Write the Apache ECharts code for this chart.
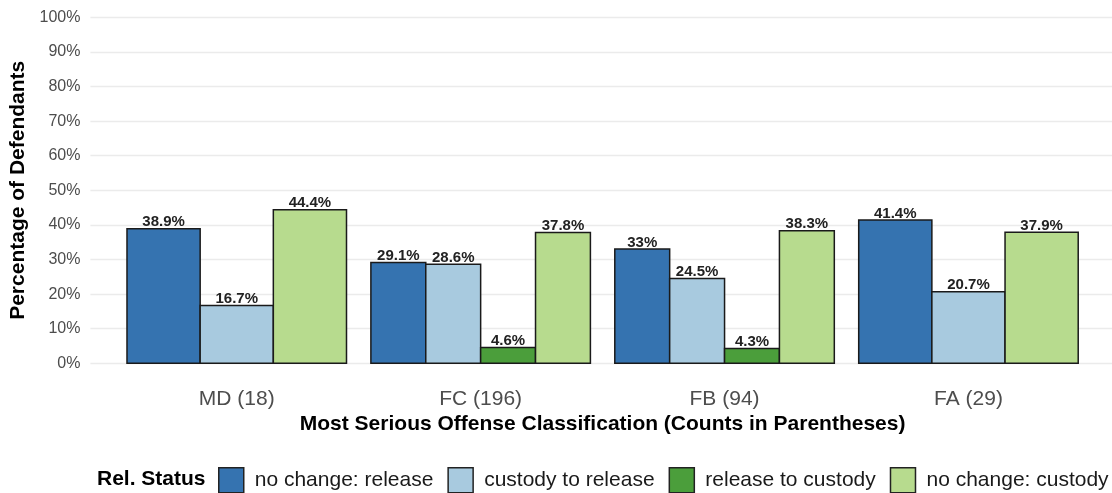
<!DOCTYPE html>
<html>
<head>
<meta charset="utf-8">
<script src="https://cdn.jsdelivr.net/npm/echarts@6/dist/echarts.min.js"></script>
<style>
html,body{margin:0;padding:0;background:#fff;}
#chart{width:1112px;height:493px;}
</style>
</head>
<body>
<div id="chart"></div>
<script>
// ---- data ----
const categories = ['MD (18)', 'FC (196)', 'FB (94)', 'FA (29)'];
const statusNames = ['no change: release', 'custody to release', 'release to custody', 'no change: custody'];
const noChangeRelease  = [38.9, 29.1, 33, 41.4];
const custodyToRelease = [16.7, 28.6, 24.5, 20.7];
const releaseToCustody = [null, 4.6, 4.3, null];
const noChangeCustody  = [44.4, 37.8, 38.3, 37.9];
const yTicks = [0, 10, 20, 30, 40, 50, 60, 70, 80, 90, 100];

const seriesValues = [noChangeRelease, custodyToRelease, releaseToCustody, noChangeCustody];
const colors = ['#3573b0', '#a8cadf', '#4b9e3b', '#b7db8e'];
const FONT = '"Liberation Sans", Arial, sans-serif';

// dodge like ggplot: bars present in each category share 0.9 of the band
function buildData(si) {
  const out = [];
  categories.forEach((c, ci) => {
    const present = seriesValues.map((a, i) => a[ci] == null ? -1 : i).filter(i => i >= 0);
    const v = seriesValues[si][ci];
    if (v == null) return;
    out.push([ci + 1, v, present.indexOf(si), present.length]);
  });
  return out;
}

function renderItem(params, api) {
  const cat = api.value(0), val = api.value(1), k = api.value(2), n = api.value(3);
  const w = 0.9 / n;
  const x0 = cat - 0.45 + k * w;
  const p1 = api.coord([x0, val]);
  const p2 = api.coord([x0 + w, 0]);
  return {
    type: 'group',
    children: [
      {
        type: 'rect',
        shape: { x: p1[0], y: p1[1], width: p2[0] - p1[0], height: p2[1] - p1[1] },
        style: { fill: api.visual('color'), stroke: '#1a1a1a', lineWidth: 1.5 }
      },
      {
        type: 'text',
        style: {
          text: val + '%',
          x: (p1[0] + p2[0]) / 2,
          y: p1[1] + 1,
          align: 'center',
          verticalAlign: 'bottom',
          font: 'bold 15px ' + FONT,
          fill: '#222'
        }
      }
    ]
  };
}

const chart = echarts.init(document.getElementById('chart'));
chart.setOption({
  animation: false,
  backgroundColor: '#fff',
  textStyle: { fontFamily: FONT },
  grid: { left: 90.4, top: 17.3, height: 346, width: 1024.4, containLabel: false, outerBoundsMode: 'none' },
  xAxis: {
    type: 'value',
    min: 0.4,
    max: 4.6,
    axisLine: { show: false },
    axisTick: { show: false },
    splitLine: { show: false },
    axisLabel: {
      customValues: [1, 2, 3, 4],
      formatter: v => categories[Math.round(v) - 1] || '',
      fontSize: 21,
      color: '#4d4d4d',
      margin: 25
    },
    name: 'Most Serious Offense Classification (Counts in Parentheses)',
    nameLocation: 'middle',
    nameGap: 50,
    nameTextStyle: { fontSize: 21, fontWeight: 'bold', color: '#000' }
  },
  yAxis: {
    type: 'value',
    min: 0,
    max: 100,
    interval: 10,
    axisLine: { show: false },
    axisTick: { show: false },
    axisLabel: { formatter: '{value}%', fontSize: 16, color: '#4d4d4d', margin: 10 },
    splitLine: { lineStyle: { color: '#ebebeb', width: 1.4 } },
    name: 'Percentage of Defendants',
    nameLocation: 'middle',
    nameGap: 52,
    nameTextStyle: { fontSize: 21, fontWeight: 'bold', color: '#000' }
  },
  legend: {
    data: statusNames,
    left: 218,
    top: 467,
    width: 1000,
    padding: 0,
    icon: 'rect',
    itemWidth: 25,
    itemHeight: 25,
    itemGap: 14,
    itemStyle: { borderColor: '#222', borderWidth: 1.5 },
    textStyle: { fontSize: 21, color: '#1a1a1a', padding: [0, 0, 0, 6] },
    selectedMode: false
  },
  graphic: [{
    type: 'text',
    left: 97,
    top: 469,
    style: { text: 'Rel. Status', font: 'bold 21px ' + FONT, fill: '#000' }
  }],
  series: statusNames.map((name, si) => ({
    name: name,
    type: 'custom',
    renderItem: renderItem,
    itemStyle: { color: colors[si], borderColor: '#222', borderWidth: 1.5 },
    encode: { x: 0, y: 1 },
    data: buildData(si)
  }))
});
</script>
</body>
</html>
